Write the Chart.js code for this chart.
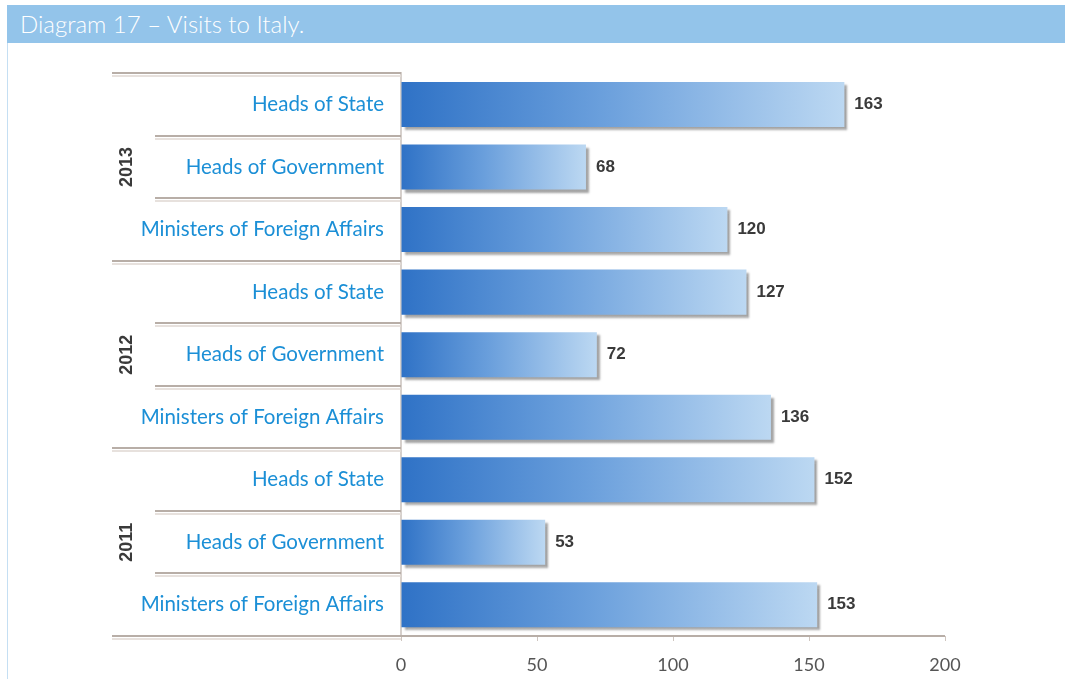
<!DOCTYPE html>
<html>
<head>
<meta charset="utf-8">
<script src="https://cdn.jsdelivr.net/npm/chart.js@4/dist/chart.umd.min.js"></script>
<style>
  body { margin: 0; background: #fff; width: 1065px; height: 679px; overflow: hidden; position: relative; }
  .head { position: absolute; left: 7px; top: 5px; width: 1058px; height: 38px; background: #93c4ea;
    color: #fff; font-family: Lato, sans-serif; font-weight: 300; font-size: 24px; line-height: 38px; padding-left: 13px; box-sizing: border-box; }
  .edge { position: absolute; left: 7px; top: 43px; width: 1px; height: 636px; background: #c5dff3; }
  .wrap { position: absolute; left: 0; top: 44px; width: 1065px; height: 635px; }
</style>
</head>
<body>
<div class="head">Diagram 17 – Visits to Italy.</div>
<div class="edge"></div>
<div class="wrap"><canvas id="c"></canvas></div>
<script>
// === Data ===
const categories = ['Heads of State', 'Heads of Government', 'Ministers of Foreign Affairs',
  'Heads of State', 'Heads of Government', 'Ministers of Foreign Affairs',
  'Heads of State', 'Heads of Government', 'Ministers of Foreign Affairs'];
const years = ['2013', '2012', '2011'];
const visits = [163, 68, 120, 127, 72, 136, 152, 53, 153];
const xTicks = [0, 50, 100, 150, 200];

function barFill(ctx) {
  const chart = ctx.chart;
  const area = chart.chartArea;
  if (!area) return '#4a88d0';
  const x = chart.scales.x;
  const x0 = x.getPixelForValue(0);
  const x1 = x.getPixelForValue(ctx.raw || 1);
  const g = chart.ctx.createLinearGradient(x0, 0, x1, 0);
  g.addColorStop(0, '#2f72c6');
  g.addColorStop(0.45, '#6a9fdc');
  g.addColorStop(1, '#bcd8f2');
  return g;
}

const decor = {
  id: 'decor',
  beforeDatasetsDraw(chart) {
    const c = chart.ctx;
    c.save();
    c.shadowColor = 'rgba(90,90,90,0.55)';
    c.shadowOffsetX = 3;
    c.shadowOffsetY = 3;
    c.shadowBlur = 2;
  },
  afterDatasetsDraw(chart) {
    const c = chart.ctx;
    c.restore();
    const { top, bottom, left } = chart.chartArea;
    const y = chart.scales.y, x = chart.scales.x;
    const step = (bottom - top) / categories.length;

    // separators on the label side
    c.save();
    for (let i = 0; i <= categories.length; i++) {
      const py = Math.round(top + i * step);
      const start = (i % 3 === 0) ? 112 : 155;
      c.strokeStyle = 'rgba(225,218,212,0.8)';
      c.lineWidth = 2;
      c.beginPath(); c.moveTo(start, py + 3); c.lineTo(left, py + 3); c.stroke();
      c.strokeStyle = '#b8aea7';
      c.beginPath(); c.moveTo(start, py); c.lineTo(i === categories.length ? x.right : left, py); c.stroke();
    }

    // year labels
    c.fillStyle = '#3a3a3a';
    c.font = 'bold 18px "Liberation Sans", Arial, sans-serif';
    c.textAlign = 'center';
    c.textBaseline = 'middle';
    years.forEach((yr, gi) => {
      const cy = top + (gi * 3 + 1.5) * step;
      c.save();
      c.translate(127, cy);
      c.rotate(-Math.PI / 2);
      c.fillText(yr, 0, 0);
      c.restore();
    });

    // value labels
    c.font = 'bold 17px "Liberation Sans", Arial, sans-serif';
    c.textAlign = 'left';
    c.fillStyle = '#3a3a3a';
    visits.forEach((v, i) => {
      c.fillText(String(v), x.getPixelForValue(v) + 10, y.getPixelForValue(i));
    });
    c.restore();
  }
};

new Chart(document.getElementById('c'), {
  type: 'bar',
  data: {
    labels: categories,
    datasets: [{ data: visits, backgroundColor: barFill, borderWidth: 0,
      barPercentage: 0.72, categoryPercentage: 1 }]
  },
  options: {
    indexAxis: 'y',
    responsive: true,
    maintainAspectRatio: false,
    animation: false,
    layout: { padding: { left: 0, right: 120, top: 26, bottom: 0 } },
    plugins: { legend: { display: false }, tooltip: { enabled: false } },
    scales: {
      x: {
        min: 0, max: 200,
        afterFit: s => { s.height = 43; },
        afterBuildTicks: s => { s.ticks = xTicks.map(v => ({ value: v })); },
        grid: { drawOnChartArea: false, drawTicks: true, tickLength: 5, color: '#cfc6c0' },
        border: { display: false },
        ticks: { color: '#555', padding: 13, font: { size: 18, family: 'Lato, sans-serif' } }
      },
      y: {
        afterFit: s => { s.width = 401; },
        grid: { display: false, drawTicks: false },
        border: { display: true, color: '#d6d0cc', width: 2 },
        ticks: { color: '#1b8fd6', padding: 17, font: { size: 20.5, family: 'Lato, sans-serif' } }
      }
    }
  },
  plugins: [decor]
});
</script>
</body>
</html>
